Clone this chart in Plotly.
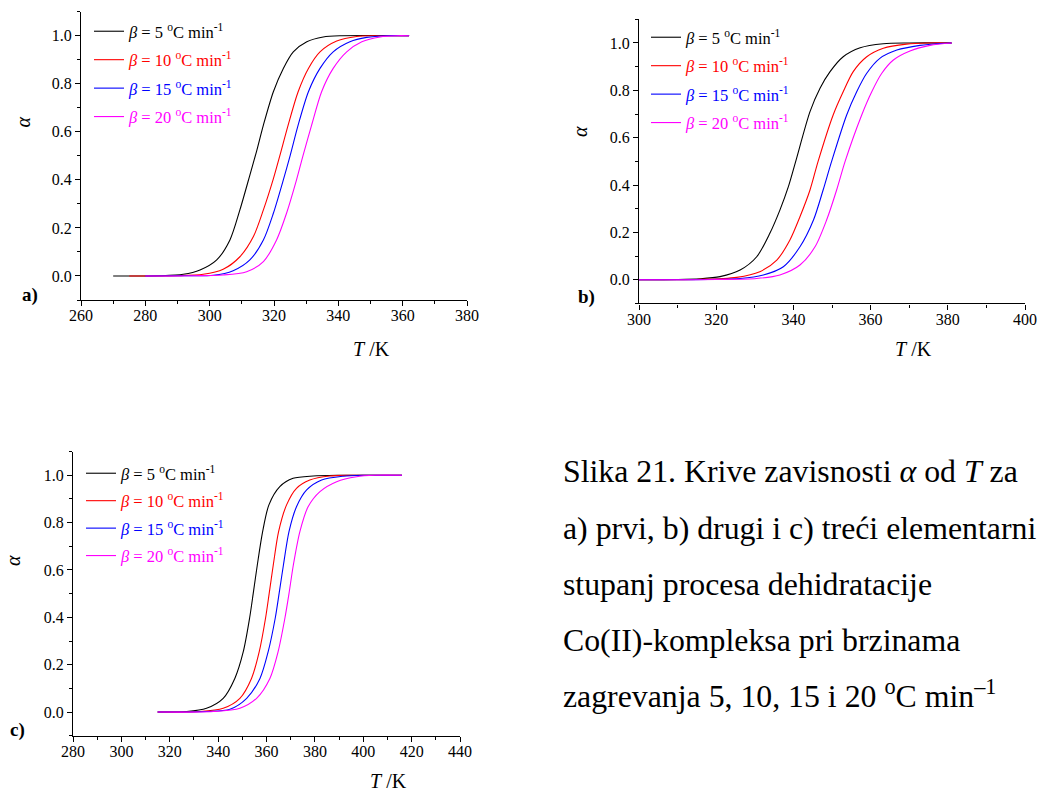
import plotly.graph_objects as go

W, H = 1038, 793
FONT = "Liberation Serif"

# ---------------- data ----------------
rate_labels = ["5", "10", "15", "20"]
colors = ["#000000", "#ff0000", "#0000ff", "#ff00ff"]

# panel a) first step
a_T_5 = [270, 285, 291.8, 297, 302.2, 306.3, 309.4, 312.5, 314.6, 316.7, 319.8, 322.9, 326, 330.2, 335.3, 341, 362]
a_al_5 = [0, 0.001, 0.007, 0.025, 0.067, 0.15, 0.275, 0.42, 0.52, 0.628, 0.767, 0.864, 0.933, 0.975, 0.995, 1.0, 1.0]
a_T_10 = [275, 290, 298, 304.2, 309.4, 313.6, 316.7, 319.7, 321.8, 324.4, 327.5, 330.7, 334.3, 339.5, 345.7, 352, 362]
a_al_10 = [0, 0.001, 0.007, 0.028, 0.08, 0.164, 0.275, 0.4, 0.5, 0.628, 0.767, 0.864, 0.933, 0.978, 0.997, 1.0, 1.0]
a_T_15 = [280, 292, 301.1, 307.3, 312.5, 316.7, 319.8, 322.9, 325, 327.5, 330.7, 334.3, 338.4, 343.6, 348.8, 355, 362]
a_al_15 = [0, 0.001, 0.003, 0.022, 0.067, 0.15, 0.261, 0.4, 0.5, 0.628, 0.767, 0.864, 0.933, 0.975, 0.993, 1.0, 1.0]
a_T_20 = [280, 295, 304.2, 311.5, 316.7, 320.8, 323.9, 327, 329, 331.7, 334.8, 338.4, 342.6, 347.3, 353, 358, 362]
a_al_20 = [0, 0.001, 0.004, 0.018, 0.06, 0.15, 0.261, 0.4, 0.5, 0.628, 0.767, 0.864, 0.933, 0.975, 0.995, 1.0, 1.0]

# panel b) second step
b_T_5 = [300, 310, 315.8, 321, 326.2, 330.5, 333.9, 336.5, 338.7, 340.6, 344.3, 346.9, 349.5, 352.9, 357.3, 363.3, 370, 381]
b_al_5 = [0, 0.001, 0.004, 0.013, 0.041, 0.097, 0.196, 0.294, 0.393, 0.5, 0.71, 0.809, 0.879, 0.942, 0.98, 0.997, 1.0, 1.0]
b_T_10 = [300, 315, 325.3, 331.3, 335.7, 339.1, 341.7, 344.3, 346.4, 350.3, 352.9, 355.5, 359, 363.3, 369.3, 375, 381]
b_al_10 = [0, 0.001, 0.01, 0.034, 0.083, 0.168, 0.266, 0.379, 0.5, 0.696, 0.794, 0.879, 0.942, 0.978, 0.995, 1.0, 1.0]
b_T_15 = [300, 318, 326.2, 332.2, 337.4, 341.7, 345.2, 347.7, 349.9, 353.8, 356.4, 359, 362.4, 366.8, 372.8, 378, 381]
b_al_15 = [0, 0.001, 0.005, 0.02, 0.055, 0.139, 0.252, 0.379, 0.5, 0.696, 0.794, 0.872, 0.935, 0.97, 0.99, 0.998, 1.0]
b_T_20 = [300, 320, 330.5, 336.5, 341.7, 345.6, 348.6, 351.2, 353.4, 357.7, 360.3, 362.9, 365.9, 370.2, 375.4, 381]
b_al_20 = [0, 0.001, 0.005, 0.02, 0.062, 0.139, 0.252, 0.379, 0.5, 0.696, 0.794, 0.872, 0.928, 0.966, 0.99, 1.0]

# panel c) third step
c_T_5 = [315, 327, 335.2, 342.1, 346.9, 350.4, 353.0, 354.5, 356.2, 358.4, 361.0, 365.5, 371, 379.3, 390, 416]
c_al_5 = [0, 0.002, 0.016, 0.058, 0.142, 0.255, 0.396, 0.5, 0.621, 0.762, 0.875, 0.952, 0.987, 0.997, 1.0, 1.0]
c_T_10 = [315, 332.5, 342.1, 349, 353.8, 357, 359.6, 361.1, 362.8, 365.0, 368.3, 372.4, 377.9, 386.2, 395, 416]
c_al_10 = [0, 0.002, 0.016, 0.058, 0.142, 0.255, 0.396, 0.5, 0.621, 0.762, 0.875, 0.945, 0.98, 0.997, 1.0, 1.0]
c_T_15 = [315, 335.2, 344.9, 351.8, 357.3, 360.7, 363.6, 365.2, 367.0, 369.3, 372.4, 376.6, 382.8, 391.7, 400, 416]
c_al_15 = [0, 0.002, 0.012, 0.058, 0.142, 0.255, 0.396, 0.5, 0.621, 0.762, 0.867, 0.938, 0.98, 0.996, 1.0, 1.0]
c_T_20 = [315, 338, 349, 355.9, 361.4, 364.8, 367.6, 369.3, 371.1, 373.8, 377.2, 382.1, 389, 397.2, 405, 416]
c_al_20 = [0, 0.002, 0.016, 0.058, 0.142, 0.255, 0.396, 0.5, 0.621, 0.762, 0.867, 0.931, 0.973, 0.994, 1.0, 1.0]

panels = {
    "a": ([a_T_5, a_T_10, a_T_15, a_T_20], [a_al_5, a_al_10, a_al_15, a_al_20]),
    "b": ([b_T_5, b_T_10, b_T_15, b_T_20], [b_al_5, b_al_10, b_al_15, b_al_20]),
    "c": ([c_T_5, c_T_10, c_T_15, c_T_20], [c_al_5, c_al_10, c_al_15, c_al_20]),
}

x_ranges = {"a": [260, 380], "b": [300, 400], "c": [280, 440]}
y_range = [-0.1, 1.1]

caption_lines = [
    "Slika 21. Krive zavisnosti <i>α</i> od <i>T</i> za",
    "a) prvi, b) drugi i c) treći elementarni",
    "stupanj procesa dehidratacije",
    "Co(II)-kompleksa pri brzinama",
    "zagrevanja 5, 10, 15 i 20 <sup>o</sup>C min<sup>–1</sup>",
]

# ---------------- layout helpers (pixel -> paper) ----------------
def fx(x):
    return x / W

def fy(y):
    return 1 - y / H

# plot-area boxes in pixels: left, right, top(y=1.1), bottom(y=-0.1)
boxes = {
    "a": (81, 467, 11.7, 300.0),
    "b": (639, 1025, 19.3, 303.4),
    "c": (73, 460, 451.6, 735.7),
}
axis_ids = {"a": ("x", "y", "", "legend"), "b": ("x2", "y2", "2", "legend2"), "c": ("x3", "y3", "3", "legend3")}
legend_pos = {"a": (89, 14, 4), "b": (646, 20, 4), "c": (81, 456, 3)}

fig = go.Figure()

for key, (Ts, Als) in panels.items():
    xa, ya, suf, lg = axis_ids[key]
    for i in range(4):
        name = ('<span style="color:%s"><i>β</i> = %s <sup>o</sup>C min<sup>-1</sup></span>'
                % (colors[i], rate_labels[i]))
        fig.add_trace(go.Scatter(
            x=Ts[i], y=Als[i], mode="lines", name=name,
            line=dict(color=colors[i], width=1.1, shape="spline", smoothing=0.8),
            xaxis=xa, yaxis=ya, legend=lg, legendgroup=key + rate_labels[i],
            showlegend=True,
        ))

axis_common = dict(
    showline=True, linecolor="black", linewidth=1.2, showgrid=False, zeroline=False,
    ticks="outside", ticklen=5, tickwidth=1, tickcolor="black", automargin=False,
    tickfont=dict(family=FONT, size=16, color="black"),
)

layout = dict(
    width=W, height=H, margin=dict(l=0, r=0, t=0, b=0, autoexpand=False),
    paper_bgcolor="white", plot_bgcolor="white",
    font=dict(family=FONT, color="black"),
)

annotations = []
for key, (l, r, t, b) in boxes.items():
    xa, ya, suf, lg = axis_ids[key]
    layout["xaxis" + suf] = dict(
        axis_common, domain=[fx(l), fx(r)], range=x_ranges[key], anchor=ya,
        dtick=20, tick0=0, ticklabelstandoff=-4,
        minor=dict(ticks="outside", dtick=10, ticklen=3, tickcolor="black"),
    )
    layout["yaxis" + suf] = dict(
        axis_common, domain=[fy(b), fy(t)], range=y_range, anchor=xa,
        dtick=0.2, tick0=0, tickformat=".1f",
        minor=dict(ticks="outside", dtick=0.1, ticklen=3, tickcolor="black"),
    )
    lx, ly, gap = legend_pos[key]
    layout[lg] = dict(
        x=fx(lx), y=fy(ly), xanchor="left", yanchor="top", xref="paper", yref="paper",
        bgcolor="rgba(0,0,0,0)", borderwidth=0, tracegroupgap=gap,
        font=dict(family=FONT, size=16.5, color="black"), itemwidth=30,
    )

# axis titles and panel labels
alpha_pos = {"a": (22.5, 122), "b": (580, 132), "c": (13, 561)}
tk_pos = {"a": (371, 349), "b": (913, 349), "c": (388, 781)}
lab_pos = {"a": (29.5, 295), "b": (586, 297), "c": (18, 730)}
for key in ["a", "b", "c"]:
    ax_, ay_ = alpha_pos[key]
    annotations.append(dict(x=fx(ax_), y=fy(ay_), xref="paper", yref="paper", text="<i>α</i>",
                            showarrow=False, textangle=-90, xanchor="center", yanchor="middle",
                            font=dict(family=FONT, size=20, color="black")))
    tx, ty = tk_pos[key]
    annotations.append(dict(x=fx(tx), y=fy(ty), xref="paper", yref="paper", text="<i>T</i> /K",
                            showarrow=False, xanchor="center", yanchor="middle",
                            font=dict(family=FONT, size=20, color="black")))
    bx, by = lab_pos[key]
    annotations.append(dict(x=fx(bx), y=fy(by), xref="paper", yref="paper", text="<b>%s)</b>" % key,
                            showarrow=False, xanchor="center", yanchor="middle",
                            font=dict(family=FONT, size=19, color="black")))

# caption
baselines = [484.5, 540.7, 597.0, 653.2, 709.5]
for txt, bl in zip(caption_lines, baselines):
    annotations.append(dict(x=fx(561), y=fy(bl + 6.9), xref="paper", yref="paper", text=txt,
                            showarrow=False, xanchor="left", yanchor="bottom", align="left",
                            font=dict(family=FONT, size=31.8, color="black")))

layout["annotations"] = annotations
fig.update_layout(**layout)

fig.write_html("out.html", config={"displayModeBar": False},
               post_script="document.body.style.margin='0px';document.body.style.overflow='hidden';")
